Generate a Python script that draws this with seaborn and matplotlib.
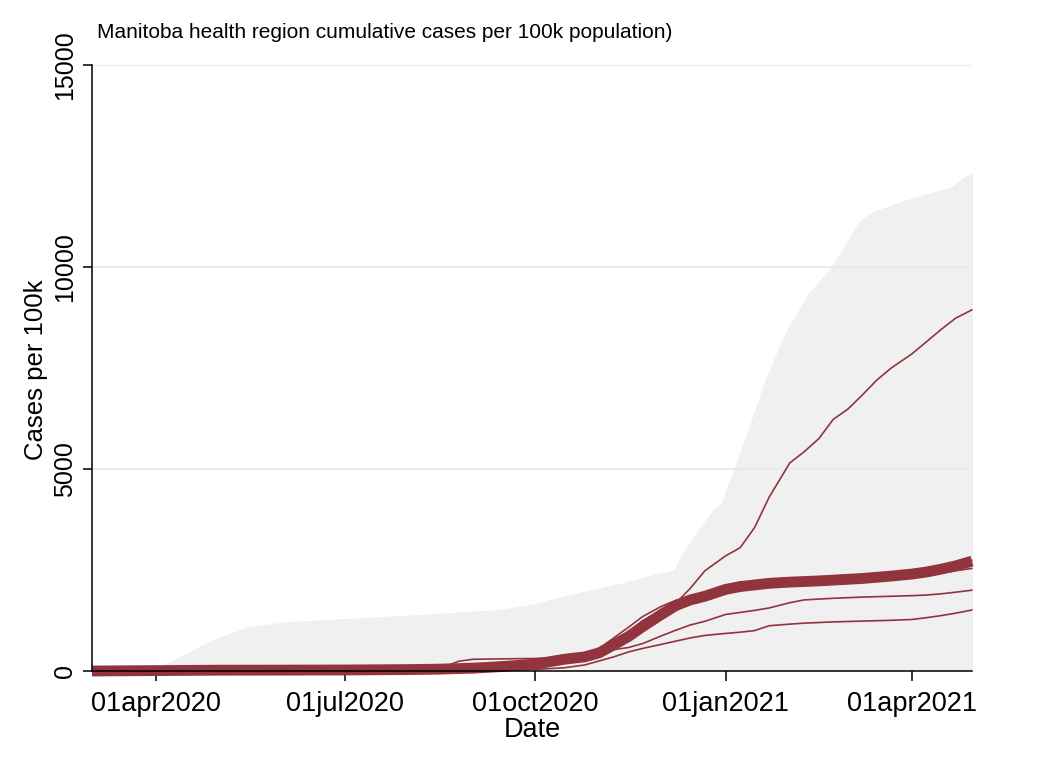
import matplotlib
matplotlib.use("Agg")
import matplotlib.pyplot as plt
import seaborn as sns
import pandas as pd

# ---------------- data ----------------
env_dates = ["2020-03-01", "2020-03-20", "2020-04-01", "2020-04-12", "2020-04-28", "2020-05-15",
             "2020-06-01", "2020-06-16", "2020-08-04", "2020-09-16", "2020-10-02", "2020-10-10",
             "2020-10-27", "2020-11-12", "2020-11-28", "2020-12-07", "2020-12-11", "2020-12-16",
             "2020-12-21", "2020-12-26", "2020-12-30", "2021-01-02", "2021-01-05", "2021-01-10",
             "2021-01-20", "2021-01-30", "2021-02-10", "2021-02-21", "2021-02-27", "2021-03-06",
             "2021-03-12", "2021-03-28", "2021-04-20", "2021-04-26", "2021-05-01"]
env_values = [0, 0, 60, 350, 770, 1090,
              1210, 1260, 1390, 1535, 1680, 1800,
              2000, 2180, 2400, 2500, 2900, 3300,
              3650, 4000, 4150, 4600, 5000, 5700,
              7200, 8400, 9350, 10000, 10500, 11100,
              11350, 11650, 11980, 12230, 12350]

reg_dates = ["2020-03-01", "2020-04-01", "2020-05-01", "2020-06-01", "2020-07-01", "2020-08-01",
             "2020-08-15", "2020-08-25", "2020-09-01", "2020-09-15", "2020-10-01", "2020-10-15",
             "2020-10-25", "2020-11-01", "2020-11-08", "2020-11-15", "2020-11-22", "2020-12-01",
             "2020-12-08", "2020-12-15", "2020-12-22", "2021-01-01", "2021-01-08", "2021-01-15",
             "2021-01-22", "2021-02-01", "2021-02-08", "2021-02-15", "2021-02-22", "2021-03-01",
             "2021-03-08", "2021-03-15", "2021-03-22", "2021-04-01", "2021-04-08", "2021-04-15",
             "2021-04-22", "2021-04-30"]

manitoba = [0, 10, 20, 22, 25, 35,
            45, 60, 70, 110, 170, 290,
            350, 450, 650, 850, 1100, 1400,
            1620, 1760, 1850, 2020, 2090, 2130,
            2170, 2200, 2215, 2230, 2250, 2270,
            2290, 2320, 2350, 2400, 2450, 2520,
            2600, 2720]

northern = [0, 2, 5, 6, 8, 12,
            15, 20, 30, 60, 130, 260,
            380, 500, 720, 950, 1250, 1500,
            1680, 2050, 2480, 2850, 3050, 3550,
            4300, 5150, 5430, 5750, 6230, 6480,
            6830, 7200, 7500, 7850, 8150, 8450,
            8730, 8940]

southern = [0, 3, 5, 6, 8, 15,
            20, 25, 35, 60, 110, 230,
            380, 560, 820, 1080, 1350, 1600,
            1750, 1850, 1920, 1990, 2040, 2080,
            2110, 2140, 2160, 2180, 2200, 2220,
            2240, 2260, 2290, 2330, 2370, 2420,
            2480, 2540]

winnipeg = [0, 12, 22, 24, 27, 38,
            48, 60, 75, 120, 200, 320,
            360, 420, 600, 800, 1050, 1350,
            1580, 1720, 1820, 1990, 2070, 2120,
            2160, 2190, 2210, 2225, 2245, 2265,
            2285, 2315, 2345, 2395, 2450, 2520,
            2610, 2740]

prairie_mountain = [0, 5, 10, 12, 14, 20,
                    40, 240, 290, 300, 310, 340,
                    420, 480, 530, 580, 680, 870,
                    1010, 1140, 1230, 1400, 1450, 1500,
                    1560, 1690, 1760, 1780, 1800, 1815,
                    1830, 1840, 1850, 1865, 1880, 1910,
                    1950, 2000]

interlake_eastern = [0, 2, 4, 5, 6, 10,
                     12, 14, 16, 25, 40, 80,
                     150, 250, 350, 470, 560, 660,
                     740, 820, 880, 930, 960, 1000,
                     1120, 1160, 1185, 1200, 1215, 1225,
                     1235, 1245, 1255, 1275, 1320, 1370,
                     1430, 1510]

region_names = ["Northern", "Southern", "Winnipeg", "Prairie Mountain", "Interlake-Eastern"]
region_values = [northern, southern, winnipeg, prairie_mountain, interlake_eastern]

tick_dates = ["2020-04-01", "2020-07-01", "2020-10-01", "2021-01-01", "2021-04-01"]
tick_labels = ["01apr2020", "01jul2020", "01oct2020", "01jan2021", "01apr2021"]
y_ticks = [0, 5000, 10000, 15000]

title = "Manitoba health region cumulative cases per 100k population)"

# ---------------- style ----------------
sns.set_theme(style="white")
plt.rcParams["font.family"] = ["Liberation Sans", "DejaVu Sans"]

RED = "#91343e"
GRAY = "#f0f0f0"
GRID = "#e4ecec"

fig = plt.figure(figsize=(10.5, 7.64), dpi=100)
ax = fig.add_axes([92 / 1050, 1 - 671 / 764, 880 / 1050, 606 / 764])

env_df = pd.DataFrame({"date": pd.to_datetime(env_dates), "value": env_values})
ax.fill_between(env_df["date"], 0, env_df["value"], color=GRAY, lw=0, zorder=1)

rows = []
for name, vals in zip(region_names, region_values):
    for d, v in zip(reg_dates, vals):
        rows.append({"region": name, "date": pd.Timestamp(d), "value": v})
reg_df = pd.DataFrame(rows)
tot_df = pd.DataFrame({"date": pd.to_datetime(reg_dates), "value": manitoba})

sns.lineplot(data=reg_df, x="date", y="value", units="region", estimator=None,
             color=RED, lw=1.2, ax=ax, zorder=2, clip_on=False)
sns.lineplot(data=tot_df, x="date", y="value", color=RED, lw=7.8, ax=ax,
             zorder=2.2, clip_on=False, solid_capstyle="butt")

ax.set_xlim(pd.Timestamp("2020-03-01"), pd.Timestamp("2021-04-30"))
ax.set_ylim(0, 15000)

ax.set_xticks(pd.to_datetime(tick_dates))
ax.set_xticklabels(tick_labels)
ax.set_yticks(y_ticks)
ax.set_yticklabels([str(t) for t in y_ticks], rotation=90, va="center")

ax.set_axisbelow("line")
ax.yaxis.grid(True, color=GRID, lw=1.5)
ax.xaxis.grid(False)

for s in ["top", "right"]:
    ax.spines[s].set_visible(False)
for s in ["left", "bottom"]:
    ax.spines[s].set_color("black")
    ax.spines[s].set_linewidth(1.1)
    ax.spines[s].set_zorder(3)

ax.tick_params(axis="x", direction="out", length=7.2, width=1.1, color="black",
               labelsize=19.5, pad=7, bottom=True, labelcolor="black")
ax.tick_params(axis="y", direction="out", length=6.5, width=1.1, color="black",
               labelsize=18, pad=4, left=True, labelcolor="black")

ax.set_xlabel("")
ax.set_ylabel("")
fig.text(36 / 1050, 1 - 370 / 764, "Cases per 100k", rotation=90, ha="center",
         va="center", fontsize=18.5, color="black")
fig.text(532 / 1050, 1 - 730 / 764, "Date", ha="center", va="center",
         fontsize=19.5, color="black")
fig.text(97 / 1050, 1 - 38 / 764, title, ha="left", va="baseline",
         fontsize=15, color="black")

fig.savefig("out.png", dpi=100, facecolor="white")
